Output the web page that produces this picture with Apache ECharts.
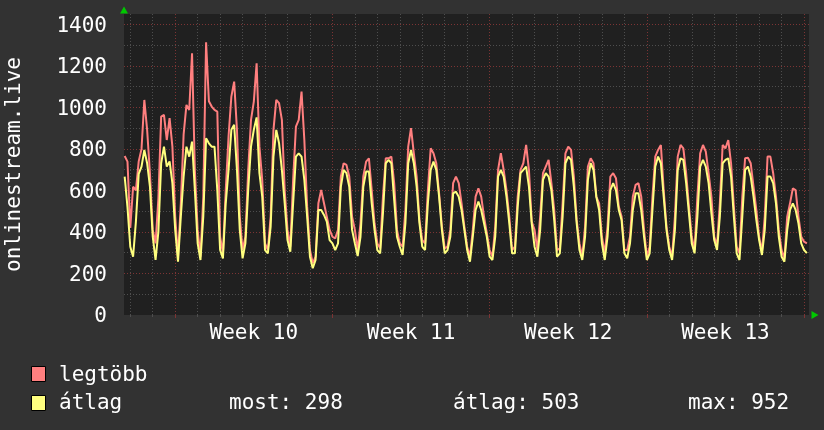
<!DOCTYPE html>
<html><head><meta charset="utf-8">
<script src="https://cdn.jsdelivr.net/npm/echarts@6/dist/echarts.min.js"></script>
<style>html,body{margin:0;padding:0;background:#323232;}#c{width:824px;height:430px;}</style>
</head><body><div id="c"></div>
<script>
// sampling: every 3 hours, first sample at day -2.25 (week 10 starts at day 0)
const startDay = -2.25;
const stepDay = 0.125;

const legtobb = [
  766, 739,
  420, 618, 600, 740, 800, 1036, 892, 683,
  410, 345, 560, 956, 964, 843, 948, 811,
  474, 281, 538, 870, 1012, 988, 1261, 700,
  410, 281, 570, 1314, 1030, 1004, 988, 980,
  377, 297, 602, 860, 1052, 1124, 892, 474,
  313, 377, 699, 940, 1028, 1213, 811, 651,
  345, 313, 474, 892, 1036, 1020, 940, 602,
  410, 329, 651, 907, 940, 1076, 843, 522,
  313, 249, 281, 538, 602, 538, 474, 410,
  377, 369, 410, 667, 731, 723, 667, 474,
  410, 313, 442, 667, 739, 755, 602, 442,
  345, 321, 570, 755, 755, 763, 635, 410,
  345, 329, 506, 811, 900, 779, 667, 458,
  361, 345, 602, 803, 779, 731, 586, 426,
  321, 329, 410, 635, 667, 635, 538, 426,
  329, 281, 410, 570, 610, 570, 474, 394,
  313, 281, 426, 699, 779, 699, 602, 474,
  313, 329, 570, 699, 731, 819, 699, 450,
  410, 313, 474, 683, 715, 747, 635, 506,
  313, 321, 538, 779, 811, 795, 667, 458,
  345, 281, 426, 715, 755, 731, 570, 538,
  377, 297, 426, 667, 683, 659, 522, 474,
  313, 313, 377, 570, 627, 635, 570, 410,
  281, 329, 570, 763, 795, 819, 602, 426,
  329, 281, 474, 763, 819, 803, 683, 522,
  377, 313, 570, 779, 819, 787, 683, 570,
  377, 337, 538, 819, 803, 843, 731, 522,
  329, 297, 570, 755, 758, 731, 618, 506,
  377, 305, 474, 763, 763, 683, 570, 410,
  313, 273, 474, 538, 610, 602, 474, 377,
  353, 345
];

const atlag = [
  667, 520,
  329, 281, 450, 680, 715, 795, 731, 618,
  377, 265, 400, 731, 811, 715, 740, 635,
  410, 257, 474, 667, 811, 763, 835, 602,
  345, 265, 474, 851, 827, 811, 811, 600,
  313, 273, 538, 699, 892, 916, 699, 410,
  273, 345, 602, 811, 892, 952, 683, 570,
  313, 297, 426, 763, 892, 827, 699, 538,
  361, 305, 538, 763, 779, 763, 651, 474,
  281, 225, 265, 506, 506, 482, 450, 361,
  345, 313, 345, 618, 699, 683, 618, 410,
  345, 284, 377, 618, 691, 691, 538, 410,
  313, 297, 490, 731, 747, 731, 554, 377,
  329, 289, 442, 731, 795, 731, 618, 442,
  329, 313, 538, 699, 739, 699, 570, 410,
  297, 313, 377, 586, 594, 570, 506, 410,
  313, 257, 377, 506, 546, 506, 442, 377,
  281, 265, 377, 667, 699, 667, 570, 442,
  297, 297, 522, 683, 699, 715, 618, 440,
  329, 281, 410, 651, 683, 667, 602, 458,
  281, 297, 474, 731, 763, 747, 618, 442,
  313, 265, 377, 651, 731, 699, 570, 506,
  345, 265, 377, 602, 635, 602, 506, 458,
  297, 273, 345, 506, 586, 586, 506, 377,
  265, 297, 506, 715, 763, 731, 570, 410,
  313, 265, 410, 699, 755, 747, 635, 490,
  345, 297, 474, 715, 747, 715, 635, 490,
  361, 313, 474, 731, 747, 755, 667, 474,
  297, 265, 474, 699, 715, 667, 570, 458,
  361, 289, 410, 667, 667, 635, 538, 377,
  281, 257, 410, 506, 538, 506, 442, 345,
  313, 298
];

const dayTicks = [-2,-1,0,1,2,3,4,5,6,7,8,9,10,11,12,13,14,15,16,17,18,19,20,21,22,23,24,25,26,27,28];
const weekTicks = [0, 7, 14, 21, 28];
const weekLabelPos = [3.5, 10.5, 17.5, 24.5];
const weekLabels = ['Week 10', 'Week 11', 'Week 12', 'Week 13'];
const seriesNames = ['legtöbb', 'átlag'];
const seriesColors = ['#ff7f7f', '#ffff7f'];
const statLabels = ['most: 298', 'átlag: 503', 'max: 952'];
const yAxisName = 'onlinestream.live';

const FONT = '"DejaVu Sans Mono", monospace';
const GRAY = '#4e4e4e';
const RED = '#7c3434';
const GREEN = '#00c800';

const toPts = arr => arr.map((v, i) => [startDay + i * stepDay, v]);

const chart = echarts.init(document.getElementById('c'), null, {renderer: 'canvas'});
chart.setOption({
  backgroundColor: '#323232',
  animation: false,
  grid: {left: 124, right: 15, top: 14, bottom: 115, show: true, backgroundColor: '#202020', borderWidth: 0,
         containLabel: false, outerBoundsMode: 'none'},
  xAxis: [
    {
      type: 'value', min: -2.28, max: 28.22, z: 0,
      axisLine: {show: true, onZero: false, symbol: ['none', 'triangle'], symbolSize: [8, 7], symbolOffset: [0, 6],
                 lineStyle: {color: GREEN, width: 0}},
      axisTick: {show: true, customValues: dayTicks, length: 2, lineStyle: {color: GRAY}},
      axisLabel: {show: false},
      splitLine: {show: true, lineStyle: {color: GRAY, type: [1, 2], width: 1}}
    },
    {
      type: 'value', min: -2.28, max: 28.22, position: 'bottom', z: 1,
      axisLine: {show: false, onZero: false},
      axisTick: {show: true, customValues: weekTicks, length: 3, lineStyle: {color: RED}},
      axisLabel: {show: true, customValues: weekLabelPos, margin: 8,
                  formatter: v => weekLabels[weekLabelPos.indexOf(v)] || '',
                  color: '#ffffff', fontSize: 21, fontFamily: FONT},
      splitLine: {show: true, lineStyle: {color: RED, type: [1, 2], width: 1}}
    }
  ],
  yAxis: [
    {
      type: 'value', min: 0, max: 1450, interval: 100, z: 0,
      axisLine: {show: false, onZero: false}, axisTick: {show: false}, axisLabel: {show: false},
      splitLine: {show: true, showMinLine: false, showMaxLine: false, lineStyle: {color: GRAY, type: [1, 2], width: 1}}
    },
    {
      type: 'value', min: 0, max: 1450, interval: 200, position: 'left', z: 1,
      name: yAxisName, nameLocation: 'middle', nameRotate: 90, nameGap: 99,
      nameTextStyle: {color: '#ffffff', fontSize: 21, fontFamily: FONT},
      axisLine: {show: true, onZero: false, symbol: ['none', 'triangle'], symbolSize: [8, 7], symbolOffset: [0, 4],
                 lineStyle: {color: GREEN, width: 0}},
      axisTick: {show: false},
      axisLabel: {show: true, margin: 17, showMaxLabel: false,
                  formatter: v => '{n|' + v + '}',
                  rich: {n: {color: '#ffffff', fontSize: 21, fontFamily: FONT, padding: [4, 0, 0, 0]}},
                  color: '#ffffff', fontSize: 21, fontFamily: FONT},
      splitLine: {show: true, showMinLine: false, showMaxLine: false, lineStyle: {color: RED, type: [1, 2], width: 1}}
    }
  ],
  series: [
    {name: seriesNames[0], type: 'line', xAxisIndex: 0, yAxisIndex: 0, data: toPts(legtobb),
     showSymbol: false, symbol: 'none', lineStyle: {color: seriesColors[0], width: 2}, itemStyle: {color: seriesColors[0]}, z: 3},
    {name: seriesNames[1], type: 'line', xAxisIndex: 0, yAxisIndex: 0, data: toPts(atlag),
     showSymbol: false, symbol: 'none', lineStyle: {color: seriesColors[1], width: 2}, itemStyle: {color: seriesColors[1]}, z: 4}
  ],
  graphic: [
    {type: 'rect', shape: {x: 31.5, y: 366.5, width: 14, height: 15}, style: {fill: seriesColors[0], stroke: '#000', lineWidth: 1}},
    {type: 'text', style: {text: seriesNames[0], x: 59, y: 376, fill: '#ffffff', fontSize: 21, fontFamily: FONT, verticalAlign: 'middle'}},
    {type: 'rect', shape: {x: 31.5, y: 395.5, width: 14, height: 15}, style: {fill: seriesColors[1], stroke: '#000', lineWidth: 1}},
    {type: 'text', style: {text: seriesNames[1], x: 59, y: 404, fill: '#ffffff', fontSize: 21, fontFamily: FONT, verticalAlign: 'middle'}},
    {type: 'text', style: {text: statLabels[0], x: 229, y: 404, fill: '#ffffff', fontSize: 21, fontFamily: FONT, verticalAlign: 'middle'}},
    {type: 'text', style: {text: statLabels[1], x: 453, y: 404, fill: '#ffffff', fontSize: 21, fontFamily: FONT, verticalAlign: 'middle'}},
    {type: 'text', style: {text: statLabels[2], x: 688, y: 404, fill: '#ffffff', fontSize: 21, fontFamily: FONT, verticalAlign: 'middle'}}
  ]
});
</script></body></html>
